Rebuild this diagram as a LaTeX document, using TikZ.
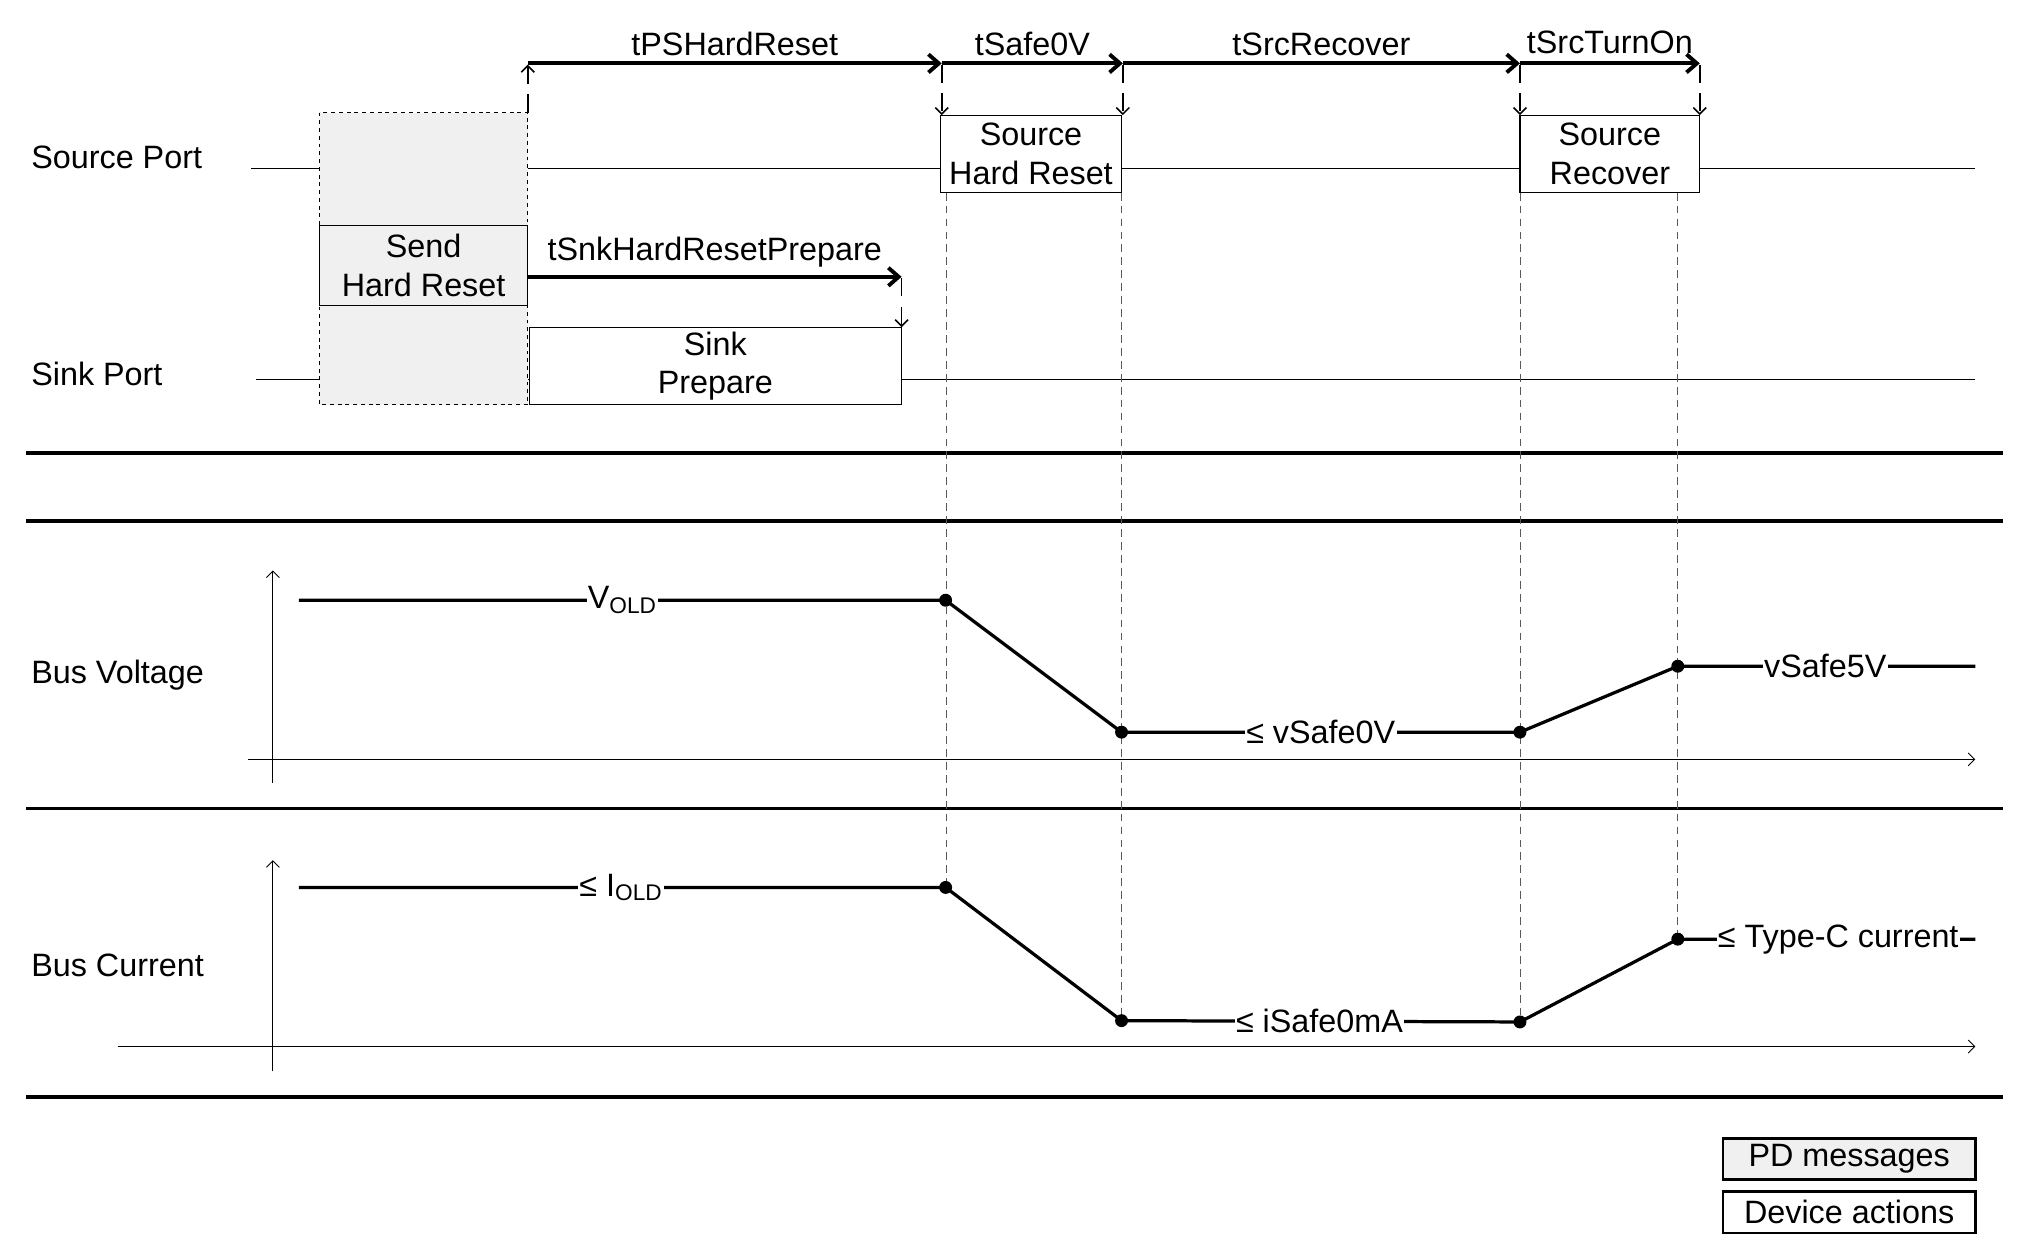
\documentclass[tikz,border=0pt]{standalone}
\usepackage{fontspec}
\setmainfont{Liberation Sans}
\usetikzlibrary{arrows.meta}
\begin{document}
\begin{tikzpicture}[x=1pt,y=-1pt,
  every node/.style={font=\fontsize{25}{28}\selectfont},
  lbl/.style={anchor=west,inner sep=0},
  sep/.style={line width=3pt},
  thin/.style={line width=0.8pt},
  tim/.style={line width=3pt,-{Straight Barb[length=8pt,width=14pt,line width=3pt]}},
  tick/.style={line width=1.2pt,dash pattern=on 14pt off 8pt,-{Straight Barb[length=5pt,width=10pt,line width=1.2pt]}},
  vline/.style={line width=0.7pt,dash pattern=on 6pt off 4pt,gray!70!black},
  sig/.style={line width=2.5pt},
  dot/.style={circle,fill=black,inner sep=0,minimum size=10pt},
  wl/.style={fill=white,inner sep=1pt},
  axis/.style={line width=0.7pt,-{Straight Barb[length=5pt,width=10pt]}},
  box/.style={draw,line width=0.8pt,align=center,inner sep=0,font=\fontsize{25}{30}\selectfont},
  leg/.style={draw,line width=2pt,inner sep=0,minimum width=195pt,minimum height=32pt}]
\useasboundingbox (0,0) rectangle (1560,968.6);
% labels
\node[lbl] (sp) at (24,122) {Source Port};
\node[lbl] (kp) at (24,289) {Sink Port};
\node[lbl] (bv) at (24,522) {Bus Voltage};
\node[lbl] (bc) at (24,746) {Bus Current};
% port lines
\draw[thin] (194,130) -- (1527,130);
\draw[thin] (198,293) -- (1527,293);
% dashed gray box
\draw[thin,dashed,fill=gray!12] (247,87) rectangle (408,313);
\node[box,fill=gray!12,minimum width=161pt,minimum height=62pt] (shr) at (327.5,205) {Send\\Hard Reset};
\node[box,fill=white,minimum width=288pt,minimum height=60pt] (skp) at (553,283) {Sink\\Prepare};
\node[box,fill=white,minimum width=140pt,minimum height=60pt] (srh) at (797,119) {Source\\Hard Reset};
\node[box,fill=white,minimum width=139pt,minimum height=60pt] (src) at (1244.5,119) {Source\\Recover};
% timing arrows
\coordinate (a0) at (408,49); \coordinate (a1) at (728,49);
\coordinate (a2) at (868,49); \coordinate (a3) at (1175,49); \coordinate (a4) at (1314,49);
\draw[tim] (a0) -- node[above=4pt,inner sep=0] (l1) {tPSHardReset} (a1);
\draw[tim] (a1) -- node[above=4pt,inner sep=0] (l2) {tSafe0V} (a2);
\draw[tim] (a2) -- node[above=4pt,inner sep=0] (l3) {tSrcRecover} (a3);
\draw[tim] (a3) -- node[above=6pt,inner sep=0] (l4) {tSrcTurnOn} (a4);
\draw[tick] (408,87) -- (408,50);
\draw[tick] (728,50) -- (728,89);
\draw[tick] (868,50) -- (868,89);
\draw[tick] (1175,50) -- (1175,89);
\draw[tick] (1314,50) -- (1314,89);
\coordinate (b0) at (408,214); \coordinate (b1) at (697,214);
\draw[tim] (b0) -- node[above=6pt,inner sep=0] (l5) {tSnkHardResetPrepare} (b1);
\draw[tick] (697,215) -- (697,253);
% separators
\foreach \y in {350,403,625,848} \draw[sep] (20,\y) -- (1548,\y);
% vertical dashed
\draw[vline] (732,149) -- (732,686);
\draw[vline] (867,149) -- (867,789);
\draw[vline] (1175,149) -- (1175,790);
\draw[vline] (1297,149) -- (1297,726);
% axes
\draw[axis] (211,605) -- (211,441);
\draw[axis] (192,587) -- (1527,587);
\draw[axis] (211,828) -- (211,665);
\draw[axis] (91,809) -- (1527,809);
% voltage
\node[dot] (v1) at (731,464) {}; \node[dot] (v2) at (867,566) {};
\node[dot] (v3) at (1175,566) {}; \node[dot] (v4) at (1297,515) {};
\coordinate (v0) at (231,464); \coordinate (v5) at (1527,515);
\draw[sig] (v0) -- (v1.center) -- (v2.center) -- (v3.center) -- (v4.center) -- (v5);
\node[wl] (vo) at (481,464) {V\textsubscript{OLD}};
\node[wl] (vs0) at (1021,566) {≤ vSafe0V};
\node[wl] (vs5) at (1411,515) {vSafe5V};
% current
\node[dot] (c1) at (731,686) {}; \node[dot] (c2) at (867,789) {};
\node[dot] (c3) at (1175,790) {}; \node[dot] (c4) at (1297,726) {};
\coordinate (c0) at (231,686); \coordinate (c5) at (1527,726);
\draw[sig] (c0) -- (c1.center) -- (c2.center) -- (c3.center) -- (c4.center) -- (c5);
\node[wl] (io) at (480,686) {≤ I\textsubscript{OLD}};
\node[wl] (is0) at (1020,789) {≤ iSafe0mA};
\node[wl] (itc) at (1421,726) {≤ Type-C current};
% legend
\node[leg,fill=gray!12] (pd) at (1429.5,896) {PD messages};
\node[leg,fill=white] (da) at (1429.5,937) {Device actions};
\end{tikzpicture}
\end{document}
